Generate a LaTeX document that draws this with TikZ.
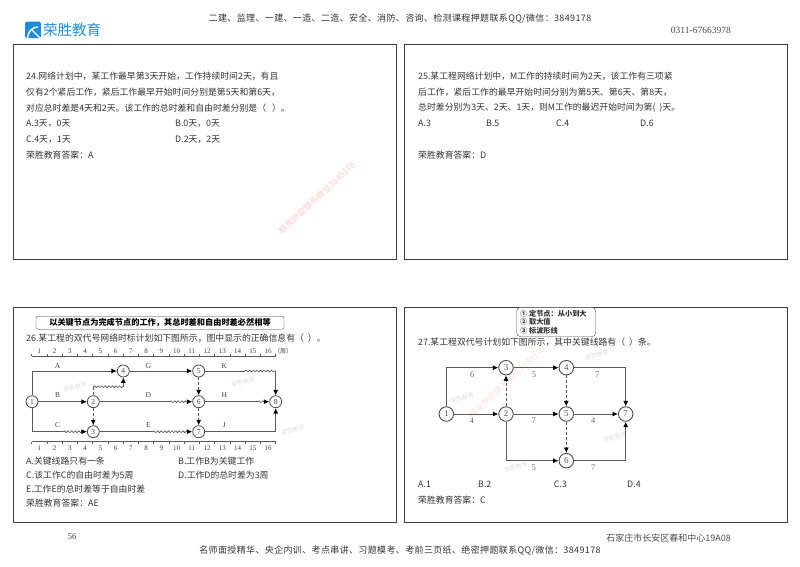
\documentclass[tikz,border=0pt]{standalone}
\usepackage{fontspec}
\setmainfont{Noto Sans CJK SC}
\newfontfamily\headfont[LetterSpace=4]{Noto Sans CJK SC}
\newfontfamily\latinfont{Liberation Serif}
\usetikzlibrary{arrows.meta,decorations.pathmorphing}
\definecolor{logoblue}{RGB}{32,140,222}
\tikzset{
  panelbox/.style={draw=black!75, line width=1pt, minimum width=383pt, minimum height=215pt, anchor=north west},
  txt/.style={anchor=west, inner sep=0pt, font=\fontsize{8.85}{9}\selectfont, text=black!80},
  wm/.style={inner sep=0pt, font=\fontsize{8.5}{9}\selectfont, text=red!20, rotate=43},
  stamp/.style={inner sep=0pt, font=\fontsize{6}{7}\selectfont, text=black!13, rotate=15},
  evta/.style={draw=black!70, circle, fill=white, inner sep=0pt, minimum size=12pt, font=\latinfont\fontsize{7.5}{8}\selectfont, text=black!75, line width=.8pt},
  evtb/.style={draw=black!70, circle, fill=white, inner sep=0pt, minimum size=14.5pt, font=\latinfont\fontsize{9}{9}\selectfont, text=black!65, line width=.9pt},
  lbl/.style={inner sep=0pt, font=\latinfont\fontsize{7.5}{8}\selectfont, text=black!75},
  lblb/.style={inner sep=0pt, font=\latinfont\fontsize{8.5}{9}\selectfont, text=black!60},
  arr/.style={draw=black!65, line width=.8pt, -{Latex[length=5.5pt,width=5pt,color=black]}},
  lin/.style={draw=black!65, line width=.8pt},
  dashln/.style={draw=black!65, line width=.8pt, densely dashed},
  wav/.style={draw=black!70, line width=.6pt, decorate, decoration={snake, amplitude=.9pt, segment length=3.6pt}},
}
\begin{document}
\begin{tikzpicture}[x=1pt,y=-1pt]
  \useasboundingbox (0,0) rectangle (800,566);

  % header
  \fill[logoblue, rounded corners=1.5pt] (25,21.5) rectangle (41,38);
  \draw[white, line width=1.4pt] (27.5,38) .. controls (28,31) and (33,27) .. (38,27);
  \draw[white, line width=1.4pt] (32,30) -- (40,38);
  \node[inner sep=0pt, anchor=west, font=\fontsize{14.5}{15}\selectfont, text=logoblue] (logo) at (43,30) {荣胜教育};
  \node[inner sep=0pt, font=\headfont\fontsize{9}{10}\selectfont, text=black!80] (top) at (400,18.5) {二建、监理、一建、一造、二造、安全、消防、咨询、检测课程押题联系QQ/微信：3849178};
  \node[inner sep=0pt, anchor=east, font=\latinfont\fontsize{9.5}{10}\selectfont, text=black!70] (tel) at (731,30) {0311-67663978};

  % panels
  \node[panelbox] (p24) at (13,44) {};
  \node[panelbox] (p25) at (404,44) {};
  \node[panelbox] (p26) at (13,307) {};
  \node[panelbox] (p27) at (404,307) {};

  % watermarks
  \node[wm] (wm1) at (317,198) {精准押题联系微信3849178};
  \node[wm, text=red!12] (wm2) at (507,382) {精准押题联系微信3849178};
  \foreach \x/\y [count=\k] in {75/387, 243/382, 293/430, 462/398, 516/467, 615/437, 597/355} {
    \node[stamp] (st\k) at (\x,\y) {荣胜教育};
  }

  % 24
  \node[txt] (q24a) at (26,76) {24.网络计划中，某工作最早第3天开始，工作持续时间2天，有且};
  \node[txt] (q24b) at (26,92) {仅有2个紧后工作，紧后工作最早开始时间分别是第5天和第6天，};
  \node[txt] (q24c) at (26,108) {对应总时差是4天和2天。该工作的总时差和自由时差分别是（\ \ \ ）。};
  \node[txt] (q24d) at (26,124) {A.3天，0天};
  \node[txt] (q24e) at (175,124) {B.0天，0天};
  \node[txt] (q24f) at (26,140) {C.4天，1天};
  \node[txt] (q24g) at (175,140) {D.2天，2天};
  \node[txt] (q24h) at (26,155) {荣胜教育答案：A};

  % 25
  \node[txt] (q25a) at (418,76) {25.某工程网络计划中，M工作的持续时间为2天，该工作有三项紧};
  \node[txt] (q25b) at (418,92) {后工作，紧后工作的最早开始时间分别为第5天、第6天、第8天，};
  \node[txt] (q25c) at (418,108) {总时差分别为3天、2天、1天，则M工作的最迟开始时间为第(\ \ )天。};
  \node[txt] (q25d) at (418,123) {A.3};
  \node[txt] (q25e) at (486,123) {B.5};
  \node[txt] (q25f) at (556,123) {C.4};
  \node[txt] (q25g) at (640,123) {D.6};
  \node[txt] (q25h) at (418,155) {荣胜教育答案：D};

  % 26
  \node[draw=black!80, rounded corners=1.5pt, minimum width=248pt, minimum height=13pt, inner sep=0pt, font=\fontsize{8.2}{9}\selectfont\bfseries] (note26) at (160,322.7) {以关键节点为完成节点的工作，其总时差和自由时差必然相等};
  \node[txt] (q26) at (26,338) {26.某工程的双代号网络时标计划如下图所示，图中显示的正确信息有（\ \ ）。};
  \draw[lin, line width=.5pt] (31.7,356) -- (275.7,356);
  \draw[lin, line width=.5pt] (31.7,441.7) -- (275.7,441.7);
  \foreach \i in {0,...,16} {
    \draw[lin, line width=.5pt] ({31.7+15.25*\i},356) -- ++(0,-2);
    \draw[lin, line width=.5pt] ({31.7+15.25*\i},441.7) -- ++(0,2);
  }
  \foreach \i in {1,...,16} {
    \node[lbl, font=\latinfont\fontsize{7}{7}\selectfont] (ru\i) at ({24+15.25*\i},351) {\i};
    \node[lbl, font=\latinfont\fontsize{7}{7}\selectfont] (rd\i) at ({24+15.25*\i},448) {\i};
  }
  \node[lbl, anchor=west, font=\fontsize{6}{7}\selectfont] (week) at (274,351) {（周）};

  \node[evta] (a1) at (32,401.7) {1};
  \node[evta] (a2) at (93.3,401.7) {2};
  \node[evta] (a3) at (93.3,431.7) {3};
  \node[evta] (a4) at (123.3,371) {4};
  \node[evta] (a5) at (198.7,371) {5};
  \node[evta] (a6) at (198.7,401.7) {6};
  \node[evta] (a7) at (198.7,431.7) {7};
  \node[evta] (a8) at (275.7,401.7) {8};

  \coordinate (cw1) at (63.3,431.7);
  \coordinate (cw2) at (85,431.7);
  \coordinate (dw1) at (170,401.7);
  \coordinate (dw2) at (190,401.7);
  \coordinate (ew1) at (153,431.7);
  \coordinate (ew2) at (190,431.7);
  \coordinate (kw1) at (245,371);
  \coordinate (kw2) at (275.7,371);
  \coordinate (hw1) at (258,401.7);
  \coordinate (hw2) at (264,401.7);
  \coordinate (fw1) at (93.3,386.7);
  \coordinate (fw2) at (123.3,386.7);

  \draw[arr] (a1) |- (a4);
  \draw[arr] (a1) -- (a2);
  \draw[lin] (a1) |- (cw1);
  \draw[wav] (cw1) -- (cw2);
  \draw[dashln] (a2) -- (fw1);
  \draw[wav] (fw1) -- (fw2);
  \draw[arr] (fw2) -- (a4);
  \draw[arr, densely dashed] (a2) -- (a3);
  \draw[lin] (a2) -- (dw1);
  \draw[wav] (dw1) -- (dw2);
  \draw[lin] (a3) -- (ew1);
  \draw[wav] (ew1) -- (ew2);
  \draw[arr] (a4) -- (a5);
  \draw[arr, densely dashed] (a5) -- (a6);
  \draw[arr, densely dashed] (a6) -- (a7);
  \draw[lin] (a5) -- (kw1);
  \draw[wav] (kw1) -- (kw2);
  \draw[arr] (kw2) -- (a8);
  \draw[lin] (a6) -- (hw1);
  \draw[wav] (hw1) -- (hw2);
  \draw[arr] (hw2) -- (a8);
  \draw[arr] (a7) -| (a8);
  \draw[arr] (cw2) -- (a3);
  \draw[arr] (dw2) -- (a6);
  \draw[arr] (ew2) -- (a7);

  \node[lbl] (la) at (57.7,366) {A};
  \node[lbl] (lg) at (148.3,366) {G};
  \node[lbl] (lk) at (224.3,366) {K};
  \node[lbl] (lb) at (57.7,394.7) {B};
  \node[lbl] (ld) at (148.3,394.7) {D};
  \node[lbl] (lh) at (224.3,394.7) {H};
  \node[lbl] (lc) at (57.7,424.7) {C};
  \node[lbl] (le) at (148.3,424.7) {E};
  \node[lbl] (lj) at (224.3,424.7) {J};

  \node[txt] (q26a) at (26,461) {A.关键线路只有一条};
  \node[txt] (q26b) at (178,461) {B.工作B为关键工作};
  \node[txt] (q26c) at (26,474.7) {C.该工作C的自由时差为5周};
  \node[txt] (q26d) at (178,474.7) {D.工作D的总时差为3周};
  \node[txt] (q26e) at (26,489) {E.工作E的总时差等于自由时差};
  \node[txt] (q26f) at (26,502.7) {荣胜教育答案：AE};

  % 27
  \node[draw=black!70, rounded corners=4pt, fill=white, minimum width=79pt, minimum height=29.4pt] (note27) at (556.2,322) {};
  \foreach \y/\t [count=\k] in {313.3/{① 定节点：从小到大},322/{② 取大值},330.7/{③ 标波形线}} {
    \node[txt, font=\fontsize{7.2}{8}\selectfont\bfseries] (nt\k) at (520,\y) {\t};
  }
  \node[txt] (q27) at (418,342) {27.某工程双代号计划如下图所示，其中关键线路有（\ \ ）条。};

  \node[evtb] (b1) at (446.3,414) {1};
  \node[evtb] (b2) at (506,414) {2};
  \node[evtb] (b3) at (506,367.7) {3};
  \node[evtb] (b4) at (566.3,367.7) {4};
  \node[evtb] (b5) at (566.3,414) {5};
  \node[evtb] (b6) at (566.3,460.7) {6};
  \node[evtb] (b7) at (625.7,414) {7};

  \draw[arr] (b1) |- (b3);
  \draw[arr] (b1) -- (b2);
  \draw[arr, densely dashed] (b2) -- (b3);
  \draw[arr] (b3) -- (b4);
  \draw[arr] (b2) -- (b5);
  \draw[arr] (b2) |- (b6);
  \draw[arr, densely dashed] (b4) -- (b5);
  \draw[arr, densely dashed] (b5) -- (b6);
  \draw[arr] (b4) -| (b7);
  \draw[arr] (b5) -- (b7);
  \draw[arr] (b6) -| (b7);

  \node[lblb] (w13) at (472.3,375) {6};
  \node[lblb] (w34) at (534,375) {5};
  \node[lblb] (w47) at (597.3,375) {7};
  \node[lblb] (w12) at (471.7,421) {4};
  \node[lblb] (w25) at (533.7,421) {7};
  \node[lblb] (w57) at (593.3,421) {4};
  \node[lblb] (w26) at (533.7,468) {5};
  \node[lblb] (w67) at (593.3,468) {7};

  \node[txt] (q27a) at (418,484) {A.1};
  \node[txt] (q27b) at (478,484) {B.2};
  \node[txt] (q27c) at (553.7,484) {C.3};
  \node[txt] (q27d) at (627,484) {D.4};
  \node[txt] (q27e) at (418,500) {荣胜教育答案：C};

  % footer
  \node[inner sep=0pt, font=\latinfont\fontsize{9}{10}\selectfont, text=black!70] (pg) at (72,537) {56};
  \node[inner sep=0pt, anchor=east, font=\fontsize{9}{10}\selectfont, text=black!70] (addr) at (731,538) {石家庄市长安区春和中心19A08};
  \node[inner sep=0pt, font=\headfont\fontsize{9}{10}\selectfont, text=black!80] (bot) at (400,550) {名师面授精华、央企内训、考点串讲、习题模考、考前三页纸、绝密押题联系QQ/微信：3849178};
\end{tikzpicture}
\end{document}
